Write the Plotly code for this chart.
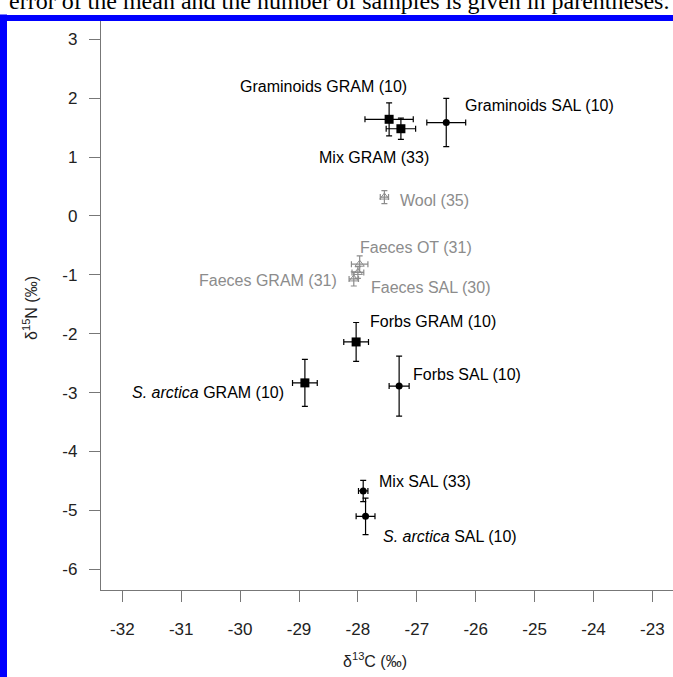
import plotly.graph_objects as go

# ---- data ----
gram_names = ["Graminoids GRAM (10)", "Mix GRAM (33)", "Forbs GRAM (10)", "<i>S. arctica</i> GRAM (10)"]
gram_x = [-27.47, -27.27, -28.03, -28.90]
gram_y = [1.64, 1.48, -2.14, -2.835]
gram_xerr = [0.41, 0.25, 0.21, 0.21]
gram_yerr = [0.28, 0.18, 0.33, 0.40]

sal_names = ["Graminoids SAL (10)", "Forbs SAL (10)", "Mix SAL (33)", "<i>S. arctica</i> SAL (10)"]
sal_x = [-26.50, -27.30, -27.91, -27.87]
sal_y = [1.585, -2.89, -4.67, -5.10]
sal_xerr = [0.33, 0.17, 0.08, 0.16]
sal_yerr = [0.41, 0.51, 0.18, 0.31]

sheep_names = ["Wool (35)", "Faeces OT (31)", "Faeces SAL (30)", "Faeces GRAM (31)"]
sheep_x = [-27.55, -27.97, -28.00, -28.07]
sheep_y = [0.32, -0.82, -0.96, -1.07]
sheep_xerr = [0.07, 0.14, 0.10, 0.08]
sheep_yerr = [0.11, 0.14, 0.10, 0.12]

x_ticks = [-32, -31, -30, -29, -28, -27, -26, -25, -24, -23]
y_ticks = [3, 2, 1, 0, -1, -2, -3, -4, -5, -6]

# label placement (anchor side, x pixel shift, y pixel shift)
gram_lab = [("right", 20, 33), ("right", 30, -29), ("left", 12, 20), ("right", -19, -10)]
sal_lab = [("left", 17, 17), ("left", 12, 12), ("left", 14, 9), ("left", 15, -20)]
sheep_lab = [("left", 14, -3), ("left", -2, 17), ("left", 11, -15), ("right", -15, -2)]

W, H = 673, 677
ML, MR, MT, MB = 101, 0, 20, 87
FONT = "Liberation Sans, Arial, sans-serif"
GREY = "#8c8c8c"
BLUE = "#0000ff"

fig = go.Figure()

def add_series(xs, ys, xe, ye, symbol, size, color, fill, lw):
    fig.add_trace(go.Scatter(
        x=xs, y=ys, mode="markers",
        marker=dict(symbol=symbol, size=size, color=fill,
                    line=dict(color=color, width=lw)),
        error_x=dict(type="data", array=xe, visible=True, color=color, thickness=1.2, width=3),
        error_y=dict(type="data", array=ye, visible=True, color=color, thickness=1.2, width=3),
        showlegend=False, cliponaxis=False, hoverinfo="skip"))

add_series(gram_x, gram_y, gram_xerr, gram_yerr, "square", 9, "black", "black", 0)
add_series(sal_x, sal_y, sal_xerr, sal_yerr, "circle", 7, "black", "black", 0)
add_series(sheep_x, sheep_y, sheep_xerr, sheep_yerr, "triangle-up-open", 8, GREY, GREY, 1)

annotations = []
def add_labels(names, xs, ys, labs, color):
    for n, x, y, (side, dx, dy) in zip(names, xs, ys, labs):
        annotations.append(dict(x=x, y=y, xref="x", yref="y", text=n, showarrow=False,
                                xanchor=side, yanchor="middle", xshift=dx, yshift=dy,
                                font=dict(family=FONT, size=16, color=color)))

add_labels(gram_names, gram_x, gram_y, gram_lab, "black")
add_labels(sal_names, sal_x, sal_y, sal_lab, "black")
add_labels(sheep_names, sheep_x, sheep_y, sheep_lab, GREY)

pw = W - ML - MR
ph = H - MT - MB
def px2paper_x(px):
    return (px - ML) / pw
def py2paper_y(py):
    return (H - MB - py) / ph

# cut-off caption line above the frame
annotations.append(dict(x=px2paper_x(7), y=py2paper_y(16), xref="paper", yref="paper",
                        xanchor="left", yanchor="bottom", showarrow=False,
                        text="error of the mean and the number of samples is given in parentheses.",
                        font=dict(family="Liberation Serif, Times New Roman, serif", size=24, color="black")))

# top blue frame band (drawn as a filled box on top)
annotations.append(dict(x=px2paper_x(0), y=py2paper_y(14.5), xref="paper", yref="paper",
                        xanchor="left", yanchor="top", showarrow=False, text=" ",
                        width=W, height=6, bgcolor=BLUE, borderpad=0, borderwidth=0,
                        font=dict(size=4, color=BLUE)))

# axis titles
annotations.append(dict(x=px2paper_x(375), y=py2paper_y(660), xref="paper", yref="paper",
                        xanchor="center", yanchor="middle", showarrow=False,
                        text="δ<sup>13</sup>C (‰)", font=dict(family=FONT, size=16, color="#222")))
annotations.append(dict(x=px2paper_x(30), y=py2paper_y(308), xref="paper", yref="paper",
                        xanchor="center", yanchor="middle", showarrow=False, textangle=-90,
                        text="δ<sup>15</sup>N (‰)", font=dict(family=FONT, size=16, color="#222")))

shapes = [
    dict(type="rect", xref="paper", yref="paper", x0=px2paper_x(0), x1=px2paper_x(7),
         y0=py2paper_y(H), y1=py2paper_y(14.5), fillcolor=BLUE, line=dict(width=0), layer="above"),
]

scale = 58.9
x0 = -32 - (122.3 - ML) / scale
y0 = -6 - ((H - MB) - 569.3) / scale

axis_common = dict(showgrid=False, zeroline=False, showline=True, linecolor="#777", linewidth=1.3,
                   ticks="outside", ticklen=11, tickwidth=1.3, tickcolor="#777",
                   tickfont=dict(family=FONT, size=17, color="#222"))

fig.update_layout(
    width=W, height=H, margin=dict(l=ML, r=MR, t=MT, b=MB, pad=0),
    paper_bgcolor="white", plot_bgcolor="white",
    xaxis=dict(range=[x0, x0 + pw / scale], tickvals=x_ticks, ticktext=[str(v) for v in x_ticks],
               ticklabelstandoff=12, **axis_common),
    yaxis=dict(range=[y0, y0 + ph / scale], tickvals=y_ticks, ticktext=[str(v) for v in y_ticks],
               ticklabelstandoff=8, **axis_common),
    annotations=annotations, shapes=shapes,
)

fig.write_html("out.html", config={"displayModeBar": False},
               post_script="document.body.style.margin='0';document.body.style.overflow='hidden';")
